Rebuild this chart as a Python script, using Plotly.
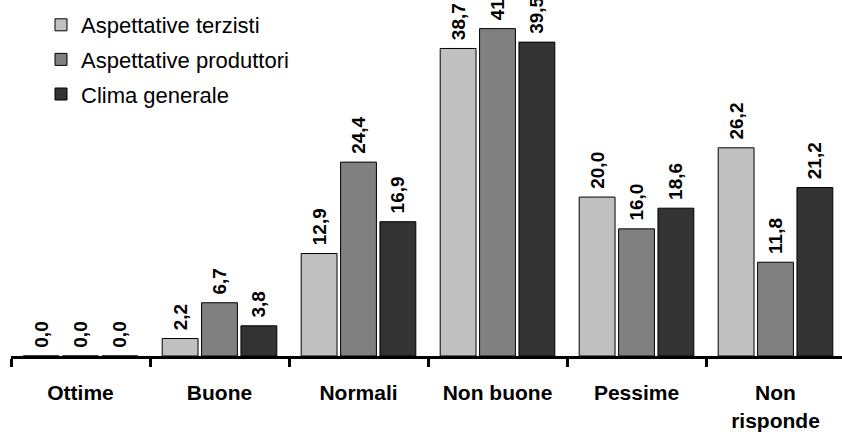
import plotly.graph_objects as go

categories = ["Ottime", "Buone", "Normali", "Non buone", "Pessime", "Non<br>risponde"]
series_names = ["Aspettative terzisti", "Aspettative produttori", "Clima generale"]
terzisti = [0.0, 2.2, 12.9, 38.7, 20.0, 26.2]
produttori = [0.0, 6.7, 24.4, 41.2, 16.0, 11.8]
clima = [0.0, 3.8, 16.9, 39.5, 18.6, 21.2]
colors = ["#c0c0c0", "#808080", "#333333"]

FONT = "Liberation Sans, Arial, sans-serif"

def fmt(v):
    return "\u00a0" + f"{v:.1f}".replace(".", ",")

fig = go.Figure()
for name, vals, col in zip(series_names, [terzisti, produttori, clima], colors):
    fig.add_trace(go.Bar(
        name=name, x=categories, y=vals,
        marker=dict(color=col, line=dict(color="#000000", width=1)),
        text=[fmt(v) for v in vals],
        textposition="outside", textangle=-90, cliponaxis=False,
        constraintext="none",
        textfont=dict(family=FONT, size=19, color="#000000", weight="bold"),
        legendgroup=name,
    ))

fig.update_layout(
    width=842, height=436,
    margin=dict(l=11, r=0, t=0, b=80, autoexpand=False),
    paper_bgcolor="white", plot_bgcolor="white",
    barmode="group", bargap=0.15, bargroupgap=0.09,
    font=dict(family=FONT, color="#000000"),
    showlegend=True,
    legend=dict(
        x=(41 - 11) / 831, y=1 - 4 / 356, xanchor="left", yanchor="top",
        font=dict(family=FONT, size=22, color="#000000"),
        bgcolor="rgba(0,0,0,0)", traceorder="grouped", tracegroupgap=3,
    ),
    xaxis=dict(
        type="category", range=[-0.5, 5.5 - 3 / 139], automargin=False,
        showline=True, linecolor="#000000", linewidth=3,
        ticks="outside", tickson="boundaries", ticklen=8, tickwidth=3, tickcolor="#000000",
        ticklabelstandoff=16, tickangle=0,
        tickfont=dict(family=FONT, size=21, color="#000000", weight="bold"),
        showgrid=False, zeroline=False,
    ),
    yaxis=dict(
        range=[0, 44.8], visible=False, showgrid=False, zeroline=False, automargin=False,
    ),
)

fig.write_html("out.html", config={"displayModeBar": False},
               post_script="document.body.style.margin='0';")
